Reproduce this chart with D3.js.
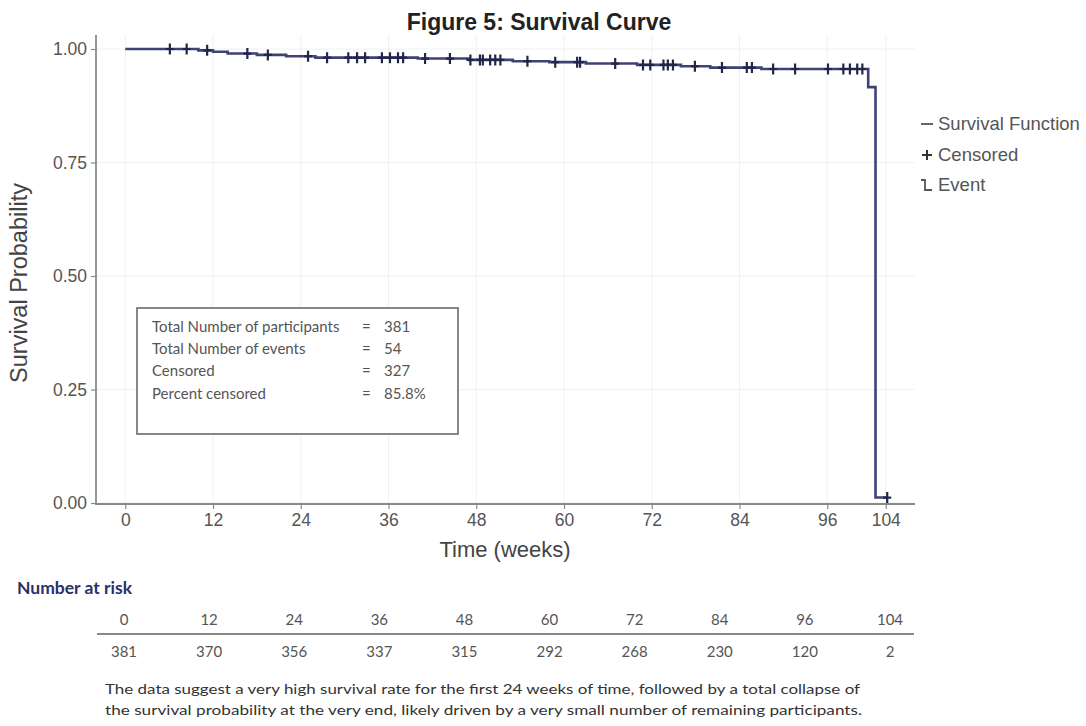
<!DOCTYPE html>
<html><head><meta charset="utf-8">
<script src="https://cdn.jsdelivr.net/npm/d3@7"></script>
<style>body{margin:0;background:#fff}svg{display:block}</style>
</head><body>
<svg id="c" width="1086" height="726"></svg>
<script>
// ---- data ----
const eventTimes    = [10, 12, 14, 18, 22, 26, 40, 47, 53, 58, 63, 70, 76, 80, 87, 101.6, 102.6];
const survivalAfter = [0.997, 0.994, 0.990, 0.987, 0.984, 0.981, 0.979, 0.976, 0.973, 0.971, 0.968, 0.965, 0.962, 0.959, 0.956, 0.916, 0.012];
const endTime = 104.2;
const censorTimes = [6.1, 8.4, 11.2, 16.7, 19.5, 25.0, 27.6, 30.5, 31.7, 32.8, 35.1, 36.2, 37.3, 38.0, 41.0, 44.4, 47.2, 48.5, 48.9, 49.9, 50.6, 51.3, 55.0, 58.8, 61.8, 62.2, 67.0, 70.8, 71.8, 73.6, 74.2, 74.9, 77.9, 81.6, 85.0, 85.7, 88.6, 91.6, 96.1, 98.2, 99.1, 100.1, 100.8, 104.2];
const xTicks = [0, 12, 24, 36, 48, 60, 72, 84, 96, 104];
const yTicks = [0, 0.25, 0.5, 0.75, 1.0];
const riskTimes = [0, 12, 24, 36, 48, 60, 72, 84, 96, 104];
const riskCounts = [381, 370, 356, 337, 315, 292, 268, 230, 120, 2];
const statLabels = ["Total Number of participants", "Total Number of events", "Censored", "Percent censored"];
const statValues = ["381", "54", "327", "85.8%"];
const legendLabels = ["Survival Function", "Censored", "Event"];
const caption = [
  "The data suggest a very high survival rate for the first 24 weeks of time, followed by a total collapse of",
  "the survival probability at the very end, likely driven by a very small number of remaining participants."
];

// ---- layout ----
const svg = d3.select("#c");
const L = 96, R = 915, T = 35, B = 505;
const x = d3.scaleLinear().domain([-4, 108]).range([L, R]);
const y = d3.scaleLinear().domain([0, 1]).range([503, 49]);
const axisCol = "#8a8a8a", textCol = "#555", lineCol = "#3f4273", markCol = "#22254a";
const sans = "Liberation Sans, Arial, sans-serif";
const hum = "Lato, Open Sans, sans-serif";

// title
svg.append("text").attr("x", 539).attr("y", 30).attr("text-anchor", "middle")
  .attr("font-family", sans).attr("font-weight", "bold")
  .attr("font-size", 23).attr("fill", "#222").text("Figure 5: Survival Curve");

// grid
const g = svg.append("g");
g.selectAll(".gx").data(xTicks).join("line")
  .attr("x1", d => x(d)).attr("x2", d => x(d)).attr("y1", T).attr("y2", B)
  .attr("stroke", "#f0f0f0").attr("stroke-width", 1);
g.selectAll(".gy").data(yTicks).join("line")
  .attr("x1", L).attr("x2", R).attr("y1", d => y(d)).attr("y2", d => y(d))
  .attr("stroke", "#f0f0f0").attr("stroke-width", 1);

// axes
const xAxis = svg.append("g").attr("transform", `translate(0,${B - 1})`)
  .call(d3.axisBottom(x).tickValues(xTicks).tickSize(5).tickPadding(5).tickSizeOuter(0));
const yAxis = svg.append("g").attr("transform", `translate(${L},0)`)
  .call(d3.axisLeft(y).tickValues(yTicks).tickFormat(d3.format(".2f")).tickSize(5).tickPadding(4).tickSizeOuter(0));
[xAxis, yAxis].forEach(a => {
  a.select(".domain").remove();
  a.selectAll("line").attr("stroke", axisCol).attr("stroke-width", 1.2);
  a.selectAll("text").attr("font-family", sans)
    .attr("font-size", 17.5).attr("fill", textCol);
});
svg.append("line").attr("x1", L).attr("x2", L).attr("y1", T).attr("y2", B)
  .attr("stroke", axisCol).attr("stroke-width", 1.8);
svg.append("line").attr("x1", L).attr("x2", R).attr("y1", B - 1).attr("y2", B - 1)
  .attr("stroke", axisCol).attr("stroke-width", 1.8);

// axis titles
svg.append("text").attr("x", 505).attr("y", 557).attr("text-anchor", "middle")
  .attr("font-family", sans).attr("font-size", 22)
  .attr("fill", "#444").text("Time (weeks)");
svg.append("text").attr("transform", "translate(27,283) rotate(-90)").attr("text-anchor", "middle")
  .attr("font-family", sans).attr("font-size", 23.5)
  .attr("fill", "#444").text("Survival Probability");

// survival curve
const pts = [[0, 1]];
eventTimes.forEach((t, i) => pts.push([t, survivalAfter[i]]));
pts.push([endTime, survivalAfter[survivalAfter.length - 1]]);
const line = d3.line().x(d => x(d[0])).y(d => y(d[1])).curve(d3.curveStepAfter);
svg.append("path").attr("d", line(pts)).attr("fill", "none")
  .attr("stroke", lineCol).attr("stroke-width", 2.6);

function survAt(t) {
  let s = 1;
  eventTimes.forEach((e, i) => { if (e <= t) s = survivalAfter[i]; });
  return s;
}
svg.append("g").selectAll("path").data(censorTimes).join("path")
  .attr("transform", d => `translate(${x(d)},${y(survAt(d))})`)
  .attr("d", "M-4,0H4M0,-5.5V5.5")
  .attr("stroke", markCol).attr("stroke-width", 2.2).attr("fill", "none");

// legend
const lg = svg.append("g").attr("font-family", sans)
  .attr("font-size", 18.5).attr("fill", textCol);
const ly = [124, 155, 185];
lg.selectAll("text").data(legendLabels).join("text")
  .attr("x", 938).attr("y", (d, i) => ly[i] + 6).text(d => d);
lg.append("line").attr("x1", 921).attr("x2", 933).attr("y1", ly[0]).attr("y2", ly[0])
  .attr("stroke", "#555").attr("stroke-width", 1.8);
lg.append("path").attr("d", `M922,${ly[1]}h10M927,${ly[1] - 5}v10`)
  .attr("stroke", "#333").attr("stroke-width", 2);
lg.append("path").attr("d", `M921,${ly[2] - 5}h4v10h7`).attr("fill", "none")
  .attr("stroke", "#555").attr("stroke-width", 1.8);

// stats box
const sb = svg.append("g").attr("font-family", hum)
  .attr("font-size", 15).attr("fill", textCol);
sb.append("rect").attr("x", 137).attr("y", 308).attr("width", 321).attr("height", 126)
  .attr("fill", "#fff").attr("stroke", "#7a7a7a").attr("stroke-width", 1.8);
const rowY = [327, 349, 371, 394];
sb.selectAll(".sl").data(statLabels).join("text")
  .attr("x", 152).attr("y", (d, i) => rowY[i] + 5).text(d => d);
sb.selectAll(".se").data(statValues).join("text")
  .attr("x", 362).attr("y", (d, i) => rowY[i] + 5).text("=");
sb.selectAll(".sv").data(statValues).join("text")
  .attr("x", 384).attr("y", (d, i) => rowY[i] + 5).text(d => d);

// number at risk
svg.append("text").attr("x", 17).attr("y", 594)
  .attr("font-family", hum).attr("font-weight", "bold")
  .attr("font-size", 17.5).attr("fill", "#2b2f6b").text("Number at risk");
const rx = d3.scalePoint().domain(riskTimes).range([124, 890]);
const rt = svg.append("g").attr("font-family", hum)
  .attr("font-size", 15).attr("fill", textCol).attr("text-anchor", "middle");
rt.selectAll(".h").data(riskTimes).join("text")
  .attr("x", d => rx(d)).attr("y", 625).text(d => d);
rt.selectAll(".v").data(riskTimes).join("text")
  .attr("x", d => rx(d)).attr("y", 657).text((d, i) => riskCounts[i]);
svg.append("line").attr("x1", 97).attr("x2", 914).attr("y1", 634).attr("y2", 634)
  .attr("stroke", axisCol).attr("stroke-width", 1.8);

// caption
svg.append("g").attr("font-family", hum)
  .attr("font-size", 14).attr("fill", "#333")
  .selectAll("text").data(caption).join("text")
  .attr("x", 105).attr("y", (d, i) => 694 + i * 21)
  .attr("textLength", (d, i) => i === 0 ? 755 : 757).attr("lengthAdjust", "spacingAndGlyphs")
  .text(d => d);
</script>
</body></html>
